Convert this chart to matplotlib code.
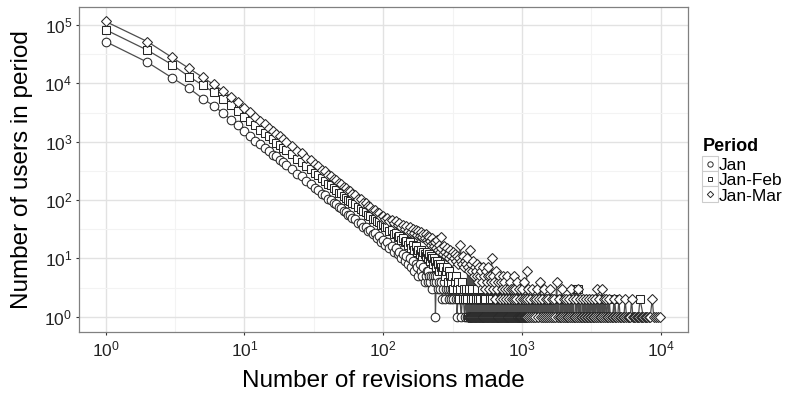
import matplotlib
matplotlib.use('Agg')
import matplotlib.pyplot as plt
from matplotlib.lines import Line2D
from matplotlib.patches import Rectangle
from matplotlib.ticker import FixedLocator, LogFormatterMathtext, NullFormatter

plt.rcParams['font.family'] = ['Liberation Sans', 'DejaVu Sans']
plt.rcParams['mathtext.fontset'] = 'custom'
plt.rcParams['mathtext.rm'] = 'Liberation Sans'
plt.rcParams['mathtext.it'] = 'Liberation Sans:italic'
plt.rcParams['mathtext.bf'] = 'Liberation Sans:bold'

# ---------------- data ----------------
periods = ['Jan', 'Jan-Feb', 'Jan-Mar']

head_x = (list(range(1, 21)) + list(range(22, 61, 2))
          + list(range(63, 100, 3)) + list(range(103, 200, 4)))

jan_head = [52000, 23000, 12500, 8200, 5500, 4100, 3100, 2400, 1900, 1500,
            1250, 1030, 920, 770, 700, 600, 560, 480, 455, 400,
            345, 280, 255, 210, 185, 162, 150, 128, 122, 106,
            101, 88, 86, 75, 74, 64, 63, 55, 56, 49,
            48, 40, 41, 34, 35, 29, 31, 26, 27, 22, 24, 19, 21,
            17, 19, 15, 16, 13, 15, 12, 13, 10, 12,
            9, 11, 8, 10, 7, 9, 6, 8, 7, 5,
            8, 6, 5, 7, 4]

jf_head = [83000, 37000, 21000, 13000, 9300, 7000, 5400, 4200, 3400, 2700,
           2250, 1900, 1600, 1420, 1230, 1100, 960, 880, 790, 720,
           610, 510, 450, 380, 340, 295, 265, 235, 215, 190,
           178, 160, 150, 134, 130, 115, 110, 100, 96, 88,
           84, 76, 70, 64, 62, 55, 54, 48, 47, 43, 42, 38, 39,
           35, 34, 30, 31, 26, 27, 23, 24, 21, 22,
           19, 20, 17, 19, 15, 17, 14, 16, 13, 14,
           12, 14, 11, 13, 12]

jm_head = [115000, 52000, 28000, 18000, 12700, 9600, 7500, 5900, 4700, 3800,
           3200, 2700, 2300, 2000, 1750, 1550, 1380, 1230, 1110, 1000,
           850, 700, 630, 525, 480, 410, 382, 330, 310, 270,
           258, 228, 218, 192, 186, 166, 162, 144, 142, 127,
           123, 106, 104, 90, 89, 78, 77, 67, 68, 59, 60, 52, 54,
           47, 50, 43, 46, 40, 43, 37, 41, 34, 38,
           32, 36, 30, 34, 28, 32, 27, 31, 25, 29,
           24, 28, 23, 26, 22]

jan_tail = [
    (203, 5), (206, 6), (209, 4), (212, 6), (215, 5), (218, 4), (221, 5), (225, 3), (229, 5), (233, 4),
    (236, 5), (238, 1), (241, 4), (245, 5), (249, 3), (253, 4), (257, 3), (261, 4), (266, 2), (271, 3),
    (276, 4), (281, 2), (286, 3), (291, 3), (297, 2), (303, 3), (309, 2), (315, 3), (321, 2), (327, 3),
    (333, 2), (339, 3), (340, 1),
    (346, 2), (352, 3), (358, 2), (365, 1), (372, 2), (379, 2), (386, 1), (393, 2), (400, 1), (408, 2),
    (416, 1), (424, 1), (432, 2), (441, 1), (450, 2), (459, 1), (468, 1), (477, 2), (487, 1), (497, 1),
    (507, 2), (517, 1), (528, 1), (539, 1), (550, 2), (561, 1), (573, 1), (585, 1), (597, 2), (609, 1),
    (622, 1), (635, 1), (648, 2), (662, 1), (676, 1), (690, 1), (705, 1), (720, 2), (735, 1), (751, 1),
    (767, 1), (783, 1), (800, 2), (817, 1), (835, 1), (853, 1), (872, 1), (891, 2), (911, 1), (931, 1),
    (952, 1), (973, 1), (995, 1), (1017, 2), (1040, 1), (1063, 1), (1087, 1),
    (1112, 1), (1140, 1), (1168, 2), (1197, 1), (1227, 1), (1258, 1), (1290, 1), (1322, 1), (1356, 2), (1390, 1),
    (1425, 1), (1461, 1), (1498, 1), (1536, 1), (1575, 2), (1615, 1), (1656, 1), (1698, 1), (1741, 1), (1785, 1),
    (1830, 1), (1877, 1), (1925, 2), (1974, 1), (2024, 1), (2076, 1), (2129, 1), (2183, 1), (2239, 1), (2296, 1),
    (2355, 1), (2415, 1), (2477, 1), (2540, 1), (2605, 1), (2672, 1), (2740, 1), (2810, 1), (2882, 1), (2956, 1),
    (3032, 1), (3110, 1), (3190, 1), (3300, 1), (3420, 1), (3560, 1), (3700, 1), (3880, 1), (4070, 1), (4300, 1)]
# further Jan revision counts held by exactly two users
jan_tail_twos = [404, 420, 428, 445, 463, 472, 482, 492, 502, 512, 522, 533, 544, 555, 567, 579,
                 591, 603, 615, 628, 641, 655, 669, 683, 697, 712, 727, 743, 759, 775, 791, 808,
                 826, 844, 862, 881, 901, 921, 941, 962, 984, 1006, 1028, 1051, 1075, 1099, 1126,
                 1154, 1182, 1212, 1242, 1274, 1306, 1339, 1373, 1407, 1443, 1480, 1517, 1555,
                 1595, 1635]

jf_tail = [
    (204, 11), (207, 13), (210, 10), (213, 12), (216, 9), (220, 11), (224, 10), (228, 8), (232, 10), (236, 9),
    (240, 7), (244, 9), (248, 8), (252, 6), (257, 8), (262, 7), (267, 6), (272, 7), (277, 5), (282, 6),
    (287, 7), (292, 4), (297, 6), (303, 5), (309, 4), (315, 5), (321, 3), (327, 4), (333, 5), (339, 3),
    (346, 4), (353, 2), (360, 3), (367, 4), (374, 2), (381, 3), (389, 2), (397, 3),
    (405, 2), (413, 3), (421, 1), (429, 2), (437, 3), (446, 2), (455, 1), (464, 2), (473, 3), (482, 2),
    (492, 1), (502, 2), (512, 3), (522, 1), (532, 2), (543, 2), (554, 1), (565, 3), (576, 1), (588, 2),
    (600, 1), (612, 2), (624, 3), (636, 1), (649, 2), (662, 1), (675, 2), (689, 1), (703, 2), (717, 1),
    (731, 3), (746, 1), (761, 2), (776, 1), (791, 2), (807, 1), (823, 1), (840, 2), (857, 1), (874, 2),
    (891, 1), (909, 1), (927, 2), (946, 1), (965, 2), (984, 1), (1004, 1), (1024, 2), (1045, 1), (1066, 1),
    (1087, 2),
    (1110, 1), (1135, 1), (1160, 2), (1185, 1), (1211, 1), (1238, 2), (1265, 1), (1293, 1), (1322, 2), (1351, 1),
    (1381, 1), (1412, 2), (1443, 1), (1475, 1), (1508, 2), (1541, 1), (1575, 1), (1610, 2), (1646, 1), (1682, 1),
    (1720, 2), (1758, 1), (1797, 1), (1837, 1), (1878, 2), (1920, 1), (1962, 1), (2006, 2), (2050, 1), (2096, 1),
    (2142, 1), (2190, 2), (2238, 1), (2288, 1), (2339, 1), (2430, 3), (2480, 1), (2536, 3), (2590, 1), (2650, 1),
    (2710, 2), (2770, 1), (2830, 1), (2900, 2), (2960, 1), (3030, 1), (3100, 1), (3170, 2), (3240, 1), (3310, 1),
    (3390, 1), (3470, 2), (3550, 1), (3630, 1), (3710, 1), (3800, 2), (3890, 1), (3980, 1), (4080, 1), (4180, 2),
    (4290, 1), (4400, 1), (4520, 1), (4650, 2), (4780, 1), (4920, 1), (5070, 1), (5230, 1), (5400, 1), (5580, 1),
    (5770, 1), (5970, 1), (6180, 1), (6400, 1), (6640, 1), (6900, 1), (7100, 2), (7500, 1)]
# further Jan-Feb revision counts held by one user / by two users
jf_tail_ones = [409, 441, 468, 477, 487, 507, 517, 537, 548, 582, 594, 618, 630, 643, 655, 669,
                682, 696, 710, 724, 738, 753, 768, 783, 799, 815, 831, 848, 865, 882, 900, 918,
                936, 955, 974, 994, 1014, 1034, 1055, 1076, 1098]
jf_tail_twos = [1122, 1147, 1198, 1224, 1251, 1279, 1307, 1336, 1366, 1396, 1427, 1459, 1491, 1524,
                1558, 1592, 1628, 1664, 1701, 1739, 1777, 1817, 1857, 1899, 1941, 1984, 2028, 2073,
                2119, 2166, 2214, 2263, 2313, 2364, 2455, 2508, 2563, 2620, 2680, 2740, 2800, 2865,
                2930, 2995, 3065, 3135, 3205, 3275, 3350, 3430, 3510, 3590, 3670, 3755, 3845, 3935]

jm_tail = [
    (203, 26), (206, 21), (209, 24), (212, 19), (215, 23), (218, 20), (221, 17), (224, 22), (227, 18), (231, 16),
    (235, 19), (239, 15), (243, 21), (247, 14), (251, 17), (255, 13), (259, 23), (263, 15), (268, 12), (273, 16),
    (278, 13), (283, 11), (288, 15), (293, 12), (298, 10), (303, 14), (308, 11), (313, 9), (318, 13), (324, 10),
    (330, 12), (336, 9), (342, 11), (348, 8), (354, 10), (360, 17), (366, 9), (372, 8), (378, 11), (385, 7),
    (392, 9), (398, 8),
    (404, 10), (410, 7), (416, 6), (424, 14), (430, 8), (436, 6), (443, 9), (450, 5), (457, 7), (464, 6),
    (471, 8), (478, 5), (486, 4), (493, 7), (501, 5), (508, 6), (516, 4), (524, 7), (532, 5), (540, 3),
    (548, 6), (556, 4), (565, 5), (574, 7), (582, 3), (591, 5), (600, 4), (605, 10), (614, 3), (623, 5),
    (632, 4), (642, 2), (652, 6), (662, 3), (672, 4), (682, 5), (693, 2), (703, 4), (714, 3), (725, 5),
    (736, 2), (747, 4), (759, 3), (770, 2), (782, 5), (794, 3), (806, 2), (818, 4), (831, 3), (844, 2),
    (857, 3), (870, 5), (883, 2), (897, 3), (911, 2), (925, 4), (939, 1), (953, 3), (968, 2), (983, 1),
    (998, 3), (1013, 2), (1029, 4), (1045, 1), (1061, 2), (1080, 6), (1095, 2),
    (1112, 3), (1131, 1), (1150, 2), (1169, 1), (1188, 3), (1208, 1), (1228, 2), (1249, 1), (1270, 2), (1291, 3),
    (1313, 1), (1335, 2), (1357, 4), (1380, 1), (1403, 2), (1427, 1), (1451, 3), (1475, 1), (1500, 2), (1525, 1),
    (1551, 2), (1577, 1), (1603, 3), (1630, 1), (1658, 2), (1686, 1), (1714, 2), (1743, 1), (1780, 4), (1805, 1),
    (1835, 2), (1866, 1), (1897, 1), (1929, 3), (1962, 1), (1995, 2), (2029, 1), (2063, 2), (2098, 1), (2133, 1),
    (2169, 2), (2206, 1), (2243, 3), (2281, 1), (2320, 2), (2359, 1), (2399, 1), (2440, 2), (2481, 1), (2523, 3),
    (2566, 1), (2609, 2), (2653, 1), (2698, 1), (2744, 2), (2790, 1), (2837, 1), (2885, 2), (2934, 1), (2984, 1),
    (3034, 2), (3085, 1), (3137, 1), (3190, 2), (3244, 1), (3299, 1), (3355, 2), (3412, 1), (3460, 3), (3520, 1),
    (3580, 2), (3640, 1), (3700, 1), (3760, 3), (3820, 1), (3885, 2), (3950, 1),
    (4020, 2), (4100, 1), (4180, 1), (4260, 2), (4340, 1), (4430, 1), (4520, 1), (4610, 2), (4700, 1), (4800, 1),
    (4900, 1), (5000, 2), (5100, 1), (5210, 1), (5320, 1), (5430, 1), (5550, 2), (5670, 1), (5790, 1), (5910, 1),
    (6040, 1), (6170, 2), (6300, 1), (6440, 1), (6580, 1), (6720, 1), (6870, 1), (7020, 1), (7180, 1), (7340, 1),
    (7500, 1), (7670, 1), (7850, 1), (8030, 1), (8210, 1), (8400, 1), (8700, 2), (8900, 1), (9200, 1), (9500, 1),
    (9890, 1)]
# further Jan-Mar revision counts held by exactly one user
jm_tail_ones = [407, 413, 420, 427, 433, 440, 447, 454, 461, 468, 475, 482, 490, 497, 505, 512,
                520, 528, 536, 544, 552, 561, 569, 578, 587, 596, 610, 619, 628, 637, 647, 657,
                667, 677, 688, 698, 708, 719, 730, 741, 753, 764, 776, 788, 800, 812, 824, 837,
                850, 863, 877, 890, 904, 918, 932, 946, 961, 976, 990, 1005, 1021, 1037, 1053,
                1070, 1088]

x_ticks = [1, 10, 100, 1000, 10000]
y_ticks = [1, 10, 100, 1000, 10000, 100000]

# ---------------- figure ----------------
W, H = 791, 394
fig = plt.figure(figsize=(W / 100, H / 100), dpi=100)
fig.patch.set_facecolor('white')
ax = fig.add_axes([79.3 / W, 1 - 332.3 / H, 609 / W, 325 / H])
ax.set_xscale('log')
ax.set_yscale('log')


def build(head, tail, extra):
    pts = list(zip(head_x, head)) + list(tail)
    for count, xs in extra:
        pts += [(x, count) for x in xs]
    pts.sort(key=lambda p: p[0])
    return [p[0] for p in pts], [p[1] for p in pts]


data = [build(jan_head, jan_tail, [(2, jan_tail_twos)]),
        build(jf_head, jf_tail, [(1, jf_tail_ones), (2, jf_tail_twos)]),
        build(jm_head, jm_tail, [(1, jm_tail_ones)])]
markers = ['o', 's', 'D']
msizes = [6.2, 5.8, 5.2]

for xs, ys in data:
    ax.plot(xs, ys, color='#4d4d4d', lw=0.9, zorder=2, solid_joinstyle='round')
for (xs, ys), m, ms in zip(data, markers, msizes):
    ax.plot(xs, ys, ls='none', marker=m, ms=ms, mfc='white', mec='#262626',
            mew=0.75, zorder=3)

ax.set_xlim(10 ** -0.190, 10 ** 4.199)
ax.set_ylim(10 ** -0.268, 10 ** 5.304)

ax.xaxis.set_major_locator(FixedLocator(x_ticks))
ax.yaxis.set_major_locator(FixedLocator(y_ticks))
ax.xaxis.set_minor_locator(FixedLocator([10 ** (k + 0.5) for k in range(-1, 5)]))
ax.yaxis.set_minor_locator(FixedLocator([10 ** (k + 0.5) for k in range(-1, 6)]))
ax.xaxis.set_major_formatter(LogFormatterMathtext())
ax.yaxis.set_major_formatter(LogFormatterMathtext())
ax.xaxis.set_minor_formatter(NullFormatter())
ax.yaxis.set_minor_formatter(NullFormatter())

ax.grid(which='major', color='#e2e2e2', lw=1.0)
ax.grid(which='minor', color='#f3f3f3', lw=0.8)
ax.set_axisbelow(True)
ax.tick_params(which='minor', length=0)
ax.tick_params(which='major', length=2.5, width=0.8, color='#333333',
               labelsize=12.5, labelcolor='#222222', pad=2.5)
for s in ax.spines.values():
    s.set_color('#808080')
    s.set_linewidth(0.9)

ax.set_xlabel('Number of revisions made', fontsize=17.5, color='black')
ax.xaxis.label.set_va('center')
ax.xaxis.set_label_coords(0.5, (332.3 - 381) / 325)
ax.set_ylabel('Number of users in period', fontsize=17.5, color='black')
ax.yaxis.label.set_va('center')
ax.yaxis.set_label_coords((22 - 79.3) / 609, 0.5)

# ---------------- legend (ggplot style) ----------------
def fx(px):
    return px / W


def fy(py):
    return 1 - py / H


fig.text(fx(702.5), fy(151), 'Period', fontsize=13, fontweight='bold',
         ha='left', va='baseline')
row_h = 15.2
for i, (lab, m, ms) in enumerate(zip(periods, markers, msizes)):
    top = 156 + i * row_h
    fig.add_artist(Rectangle((fx(702), fy(top + row_h)), 15.5 / W, row_h / H,
                             transform=fig.transFigure, facecolor='white',
                             edgecolor='#cccccc', lw=0.8))
    cy = top + row_h / 2
    fig.add_artist(Line2D([fx(709.8)], [fy(cy)], transform=fig.transFigure,
                          marker=m, ms=ms * 0.62, mfc='white', mec='#2b2b2b',
                          mew=0.7, ls='none'))
    fig.text(fx(719), fy(cy) - 0.5 / H, lab, fontsize=12.5, ha='left',
             va='center_baseline')

fig.savefig('out.png', dpi=100)
